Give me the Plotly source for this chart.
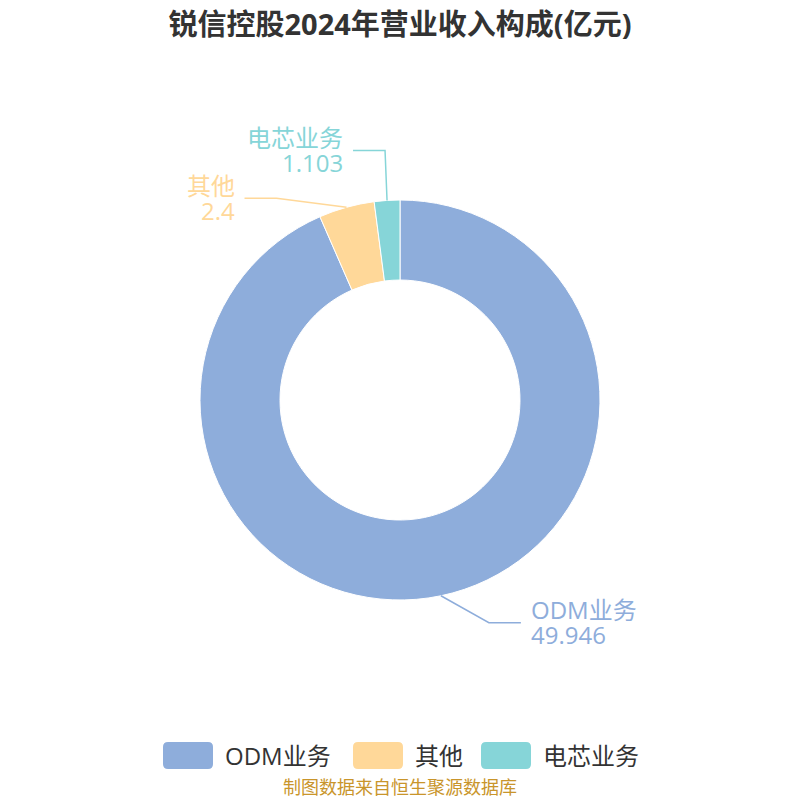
import math
import plotly.graph_objects as go

title = "锐信控股2024年营业收入构成(亿元)"
categories = ["ODM业务", "其他", "电芯业务"]
values = [49.946, 2.4, 1.103]
value_labels = ["49.946", "2.4", "1.103"]
colors = ["#8EADDB", "#FFD899", "#86D5D8"]
source = "制图数据来自恒生聚源数据库"

W = H = 800
OFF = 8  # page body margin
CX, CY, R = 400, 400, 200

def px(x):
    return (x - OFF) / W

def py(y):
    return 1 - (y - OFF) / H

FONT = "Open Sans, Noto Sans CJK SC, sans-serif"

fig = go.Figure()
fig.add_trace(go.Pie(
    labels=categories, values=values, hole=0.6, sort=False,
    direction="clockwise", rotation=0,
    marker=dict(colors=colors, line=dict(color="white", width=1)),
    textinfo="none", hoverinfo="label+value", showlegend=False,
    domain=dict(x=[px(CX - R), px(CX + R)], y=[py(CY + R), py(CY - R)]),
))

layouts = [
    dict(elbow=(48, 27), length2=32, side="right"),
    dict(elbow=(-70, -9), length2=-32, side="left"),
    dict(elbow=(-2, -50), length2=-32, side="left"),
]

total = sum(values)
cum = 0
shapes = []
annotations = []
for cat, val, lab, col, lay in zip(categories, values, value_labels, colors, layouts):
    mid = (cum + val / 2) / total
    cum += val
    ang = 2 * math.pi * mid
    ax = CX + R * math.sin(ang)
    ay = CY - R * math.cos(ang)
    ex, ey = ax + lay["elbow"][0], ay + lay["elbow"][1]
    tx = ex + lay["length2"]
    shapes.append(dict(
        type="path", xref="paper", yref="paper",
        path=f"M {px(ax)},{py(ay)} L {px(ex)},{py(ey)} L {px(tx)},{py(ey)}",
        line=dict(color=col, width=1.5),
    ))
    if lay["side"] == "right":
        anchor, tx2 = "left", tx + 8
    else:
        anchor, tx2 = "right", tx - 8
    annotations.append(dict(
        x=px(tx2), y=py(ey - 13), xref="paper", yref="paper",
        text=cat, showarrow=False, xanchor=anchor, yanchor="middle",
        font=dict(size=24, color=col),
    ))
    annotations.append(dict(
        x=px(tx2), y=py(ey + 12), xref="paper", yref="paper",
        text=lab, showarrow=False, xanchor=anchor, yanchor="middle",
        font=dict(size=24, color=col),
    ))

# custom legend
leg_x = [163, 353, 481]
for cat, col, lx in zip(categories, colors, leg_x):
    x0, x1, y0, y1, r = lx, lx + 50, 742, 769, 5
    path = (f"M {px(x0 + r)},{py(y0)} L {px(x1 - r)},{py(y0)} "
            f"Q {px(x1)},{py(y0)} {px(x1)},{py(y0 + r)} L {px(x1)},{py(y1 - r)} "
            f"Q {px(x1)},{py(y1)} {px(x1 - r)},{py(y1)} L {px(x0 + r)},{py(y1)} "
            f"Q {px(x0)},{py(y1)} {px(x0)},{py(y1 - r)} L {px(x0)},{py(y0 + r)} "
            f"Q {px(x0)},{py(y0)} {px(x0 + r)},{py(y0)} Z")
    shapes.append(dict(type="path", xref="paper", yref="paper", path=path,
                       fillcolor=col, line=dict(width=0)))
    annotations.append(dict(
        x=px(x1 + 10), y=py(755), xref="paper", yref="paper", text=cat,
        showarrow=False, xanchor="left", yanchor="middle",
        font=dict(size=24, color="#333333"),
    ))

annotations.append(dict(
    x=px(400), y=py(787), xref="paper", yref="paper", text=source, showarrow=False,
    xanchor="center", yanchor="middle", font=dict(size=18, color="#C9952B"),
))

fig.update_layout(
    width=W, height=H,
    margin=dict(l=0, r=0, t=0, b=0),
    paper_bgcolor="white", plot_bgcolor="white",
    font=dict(family=FONT),
    title=dict(text=f"<b>{title}</b>", x=px(400), xanchor="center", y=py(25),
               yanchor="middle", font=dict(size=29, color="#333333")),
    shapes=shapes, annotations=annotations,
)

fig.write_html("out.html")
